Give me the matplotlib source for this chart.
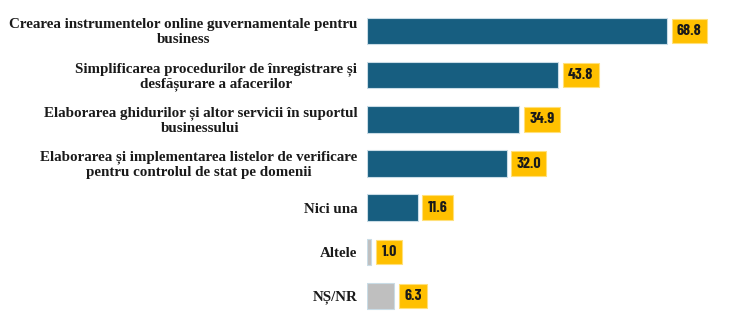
import matplotlib
matplotlib.use("Agg")
import matplotlib.pyplot as plt

categories = [
    "Crearea instrumentelor online guvernamentale pentru\nbusiness",
    "Simplificarea procedurilor de înregistrare și\ndesfășurare a afacerilor",
    "Elaborarea ghidurilor și altor servicii în suportul\nbusinessului",
    "Elaborarea și implementarea listelor de verificare\npentru controlul de stat pe domenii",
    "Nici una",
    "Altele",
    "NȘ/NR",
]
values = [68.8, 43.8, 34.9, 32.0, 11.6, 1.0, 6.3]
bar_colors = ["#175E80", "#175E80", "#175E80", "#175E80", "#175E80", "#BFBFBF", "#BFBFBF"]

W, H, DPI = 740, 322, 100
fig = plt.figure(figsize=(W / DPI, H / DPI), dpi=DPI)
ax = fig.add_axes([367 / W, 4 / H, (W - 367) / W, 309 / H])

y = list(range(len(values)))
ax.barh(y, values, height=0.6, color=bar_colors, edgecolor="#C9DCE6", linewidth=0.8)
ax.set_xlim(0, (W - 367) / 4.36)
ax.set_ylim(len(values) - 0.5, -0.5)
ax.axis("off")

for yi, v in zip(y, values):
    ax.annotate(f"{v:.1f}", xy=(v, yi), xytext=(7.2, 0), textcoords="offset points",
                ha="left", va="center", fontsize=11.5, fontweight="bold",
                family=["Barlow Condensed", "DejaVu Sans"], color="#1a1a1a",
                bbox=dict(boxstyle="square,pad=0.33", facecolor="#FFC000",
                          edgecolor="#FFE07a", linewidth=0.8))

for yi, lab in zip(y, categories):
    ax.annotate(lab, xy=(0, yi), xytext=(-7, -1), textcoords="offset points",
                ha="right", va="center", multialignment="center",
                fontsize=10.8, fontweight="bold", family="Liberation Serif",
                color="#1a1a1a", linespacing=1.2)

fig.savefig("out.png", dpi=DPI, facecolor="white")
